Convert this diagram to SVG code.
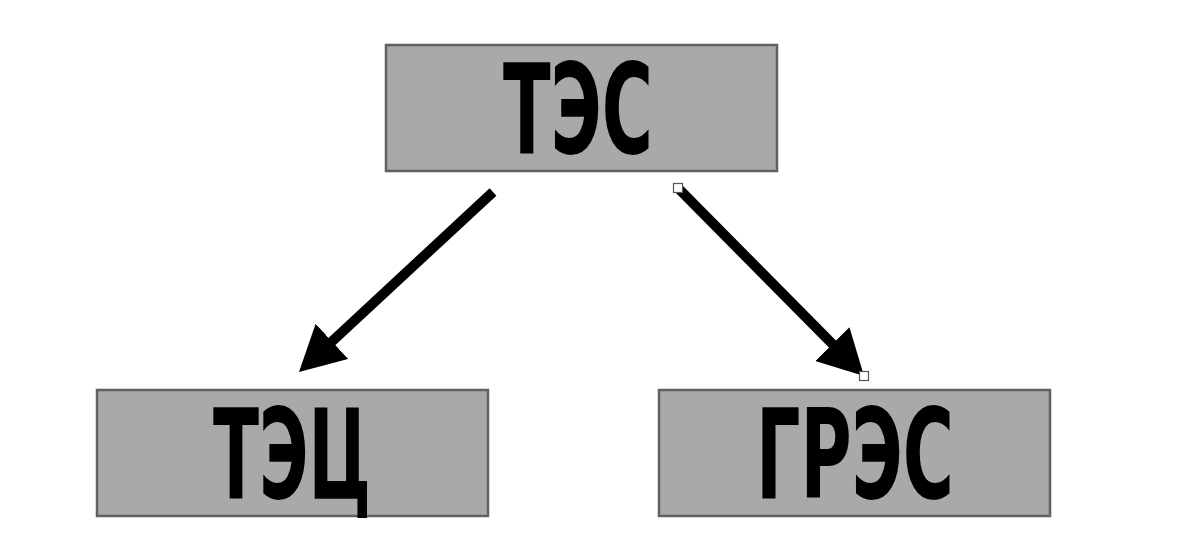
<svg xmlns="http://www.w3.org/2000/svg" width="1200" height="558" viewBox="0 0 1200 558">
  <style>
    .box { fill: #a8a9a8; stroke: #5f6166; stroke-width: 2.5; }
    .lbl { font-family: "DejaVu Sans", "Liberation Sans", sans-serif; font-weight: bold; font-size: 124px; fill: #000; text-anchor: middle; }
    .conn { stroke: #000; stroke-width: 10; fill: none; }
    .handle { fill: #fff; stroke: #555; stroke-width: 1.2; }
  </style>
  <defs>
    <marker id="head" markerUnits="userSpaceOnUse" viewBox="0 0 45 48" markerWidth="45" markerHeight="48" refX="5" refY="24" orient="auto">
      <path d="M0,0 L45,24 L0,48 Z" fill="#000"/>
    </marker>
  </defs>
  <rect width="1200" height="558" fill="#fff"/>
  <g id="connectors">
    <line class="conn" x1="493" y1="192" x2="328.3" y2="344.8" marker-end="url(#head)"/>
    <line class="conn" x1="678" y1="188" x2="835.9" y2="347.6" marker-end="url(#head)"/>
    <rect class="handle" x="673.5" y="183.5" width="9" height="9"/>
    <rect class="handle" x="859.5" y="371.5" width="9" height="9"/>
  </g>
  <g id="tes">
    <rect class="box" x="386" y="45" width="391" height="126"/>
    <text class="lbl" x="578" y="153" textLength="150" lengthAdjust="spacingAndGlyphs">ТЭС</text>
  </g>
  <g id="tec">
    <rect class="box" x="97" y="390" width="391" height="126"/>
    <text class="lbl" x="292" y="498" textLength="158" lengthAdjust="spacingAndGlyphs">ТЭЦ</text>
  </g>
  <g id="gres">
    <rect class="box" x="659" y="390" width="391" height="126"/>
    <text class="lbl" x="855" y="498" textLength="198" lengthAdjust="spacingAndGlyphs">ГРЭС</text>
  </g>
</svg>
